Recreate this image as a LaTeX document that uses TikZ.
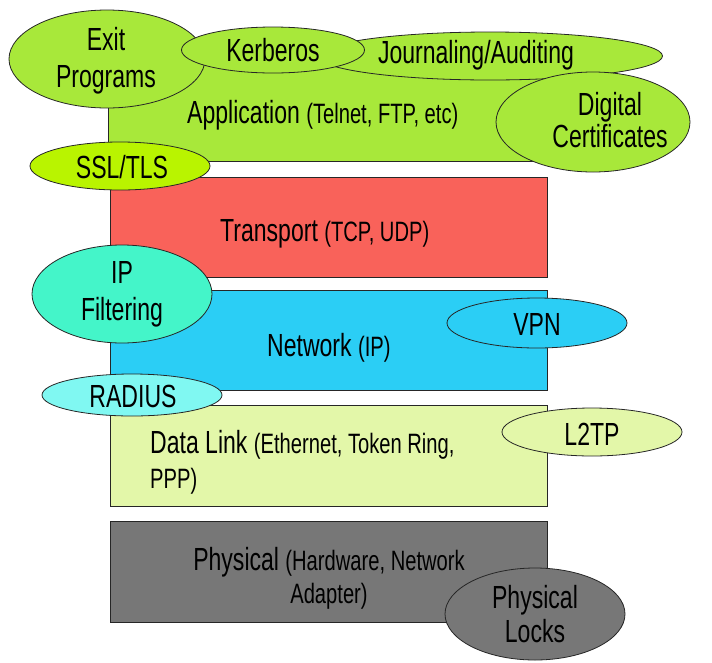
\documentclass[tikz,border=0pt]{standalone}
\usepackage{fontspec}
\setmainfont[FakeStretch=0.72]{Liberation Sans}
\usetikzlibrary{shapes.geometric}
\definecolor{appgreen}{HTML}{A8E83A}
\definecolor{sslgreen}{HTML}{B9F400}
\definecolor{transred}{HTML}{F9625A}
\definecolor{netblue}{HTML}{2BCEF5}
\definecolor{ipaqua}{HTML}{44F5C9}
\definecolor{radcyan}{HTML}{80F8F2}
\definecolor{linkyel}{HTML}{E3F7A9}
\definecolor{physgray}{HTML}{777777}
\newcommand{\bigtxt}{\fontsize{32}{37}\selectfont}
\newcommand{\smltxt}{\fontsize{28}{32}\selectfont}
\tikzset{
  layer/.style={draw=black!85, line width=0.8pt},
  oval/.style={ellipse, draw=black!85, line width=0.8pt, inner sep=0pt},
  lbl/.style={inner sep=0pt, font=\bigtxt, anchor=base},
  lblw/.style={inner sep=0pt, font=\bigtxt, anchor=base west}
}
\begin{document}
\begin{tikzpicture}[x=1pt,y=-1pt]
\useasboundingbox (0,0) rectangle (712,662);
% layers
\path[layer, fill=appgreen] (108,45) rectangle (547,161);
\path[layer, fill=transred] (110,177) rectangle (547,277);
\path[layer, fill=netblue] (110,290) rectangle (547,390);
\path[layer, fill=linkyel] (110,405) rectangle (547,506);
\path[layer, fill=physgray] (110,521) rectangle (547,622);
% layer labels
\node[lblw] (app) at (187,123) {Application {\smltxt (Telnet, FTP, etc)}};
\node[lblw] (trans) at (220,241) {Transport {\smltxt (TCP, UDP)}};
\node[lblw] (net) at (267,356) {Network {\smltxt (IP)}};
\node[lblw] (link1) at (150,453) {Data Link {\smltxt (Ethernet, Token Ring,}};
\node[lblw] (link2) at (150,488) {\smltxt PPP)};
\node[lbl] (phys1) at (329,570) {Physical {\smltxt (Hardware, Network}};
\node[lbl] (phys2) at (329,603) {\smltxt Adapter)};
% ovals
\node[oval, fill=appgreen, minimum width=345pt, minimum height=48pt] (jour) at (490,56) {};
\node[lbl] (jourt) at (476,63) {Journaling/Auditing};
\node[oval, fill=appgreen, minimum width=196pt, minimum height=98pt] (exit) at (107,59) {};
\node[lbl] (exitt1) at (106,50) {Exit};
\node[lbl] (exitt2) at (106,87) {Programs};
\node[oval, fill=appgreen, minimum width=183pt, minimum height=46pt] (kerb) at (273,50) {};
\node[lbl] (kerbt) at (273,61) {Kerberos};
\node[oval, fill=appgreen, minimum width=194pt, minimum height=100pt] (cert) at (593,122) {};
\node[lbl] (certt1) at (610,115) {Digital};
\node[lbl] (certt2) at (610,147) {Certificates};
\node[oval, fill=sslgreen, minimum width=180pt, minimum height=48pt] (ssl) at (120,166) {};
\node[lbl] (sslt) at (122,178) {SSL/TLS};
\node[oval, fill=ipaqua, minimum width=180pt, minimum height=98pt] (ipf) at (122,294) {};
\node[lbl] (ipft1) at (122,283) {IP};
\node[lbl] (ipft2) at (122,320) {Filtering};
\node[oval, fill=netblue, minimum width=180pt, minimum height=50pt] (vpn) at (537,323) {};
\node[lbl] (vpnt) at (537,335) {VPN};
\node[oval, fill=radcyan, minimum width=180pt, minimum height=42pt] (rad) at (132,395) {};
\node[lbl] (radt) at (133,407) {RADIUS};
\node[oval, fill=linkyel, minimum width=180pt, minimum height=48pt] (l2tp) at (592,432) {};
\node[lbl] (l2tpt) at (592,445) {L2TP};
\node[oval, fill=physgray, minimum width=180pt, minimum height=92pt] (lock) at (535,614) {};
\node[lbl] (lockt1) at (535,608) {Physical};
\node[lbl] (lockt2) at (535,642) {Locks};
\end{tikzpicture}
\end{document}
